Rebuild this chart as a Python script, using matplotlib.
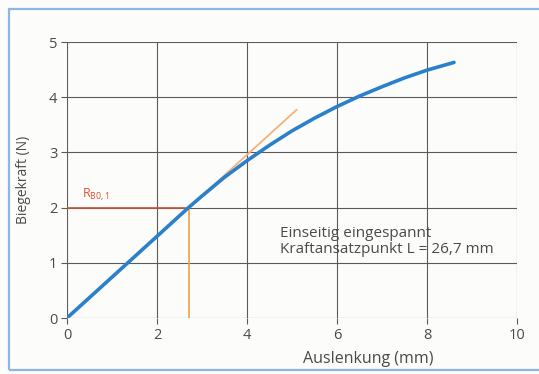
import matplotlib.pyplot as plt
from matplotlib.patches import Rectangle

# Biegekraft-Kennlinie (Auslenkung in mm, Kraft in N)
auslenkung = [0.0, 1.0, 2.0, 2.7, 3.0, 3.5, 4.0, 4.5, 5.0, 5.5, 6.0, 6.5, 7.0, 7.5, 8.0, 8.6]
biegekraft = [0.0, 0.74, 1.48, 2.0, 2.21, 2.55, 2.85, 3.13, 3.39, 3.62, 3.83, 4.02, 4.19, 4.35, 4.49, 4.63]

# Hooke'sche Gerade und Ablesepunkt R_B0,1
gerade_x = [0.0, 5.1]
gerade_y = [0.0, 3.77]
rb_x = 2.7
rb_y = 2.0

plt.rcParams['font.family'] = ['Open Sans', 'DejaVu Sans']
grau = '#4a4a4a'

fig = plt.figure(figsize=(5.39, 3.74), dpi=100, facecolor='#fcfcfa')
fig.patches.append(Rectangle((9 / 539, 4 / 374), 1.0, 1 - 13 / 374, transform=fig.transFigure,
                             fill=False, edgecolor='#8fb6e2', linewidth=1.6))

ax = fig.add_axes([67 / 539, 1 - 318 / 374, 450 / 539, 276 / 374])
ax.set_facecolor('#fcfcfa')
ax.set_xlim(0, 10)
ax.set_ylim(0, 5)
ax.set_xticks([0, 2, 4, 6, 8, 10])
ax.set_yticks([0, 1, 2, 3, 4, 5])
ax.grid(True, color='#5a5a5a', linewidth=0.8)
ax.set_axisbelow(True)
for s in ax.spines.values():
    s.set_visible(False)
ax.tick_params(length=4, width=0.8, color='#5a5a5a', labelcolor=grau, labelsize=10.5, pad=3)

ax.plot(gerade_x, gerade_y, color='#f4b27a', linewidth=1.3, zorder=2)
ax.plot([0, rb_x], [rb_y, rb_y], color='#c9503a', linewidth=1.2, zorder=2)
ax.plot([rb_x, rb_x], [0, rb_y], color='#f0a050', linewidth=1.2, zorder=2)
ax.plot(auslenkung, biegekraft, color='#2b80cc', linewidth=2.6,
        solid_capstyle='round', solid_joinstyle='round', zorder=3)

ax.text(0.33, 2.2, r'R$_{\mathregular{B0,1}}$', color='#e0502a', fontsize=9)
ax.text(4.73, 1.39, 'Einseitig eingespannt\nKraftansatzpunkt L = 26,7 mm',
        color=grau, fontsize=11, va='center', linespacing=1.05)

ax.set_xlabel('Auslenkung (mm)', color=grau, fontsize=11.5)
ax.xaxis.set_label_coords(0.669, -0.12)
ax.set_ylabel('Biegekraft (N)', color=grau, fontsize=10, labelpad=13)

fig.savefig('out.png', dpi=100, facecolor=fig.get_facecolor())
